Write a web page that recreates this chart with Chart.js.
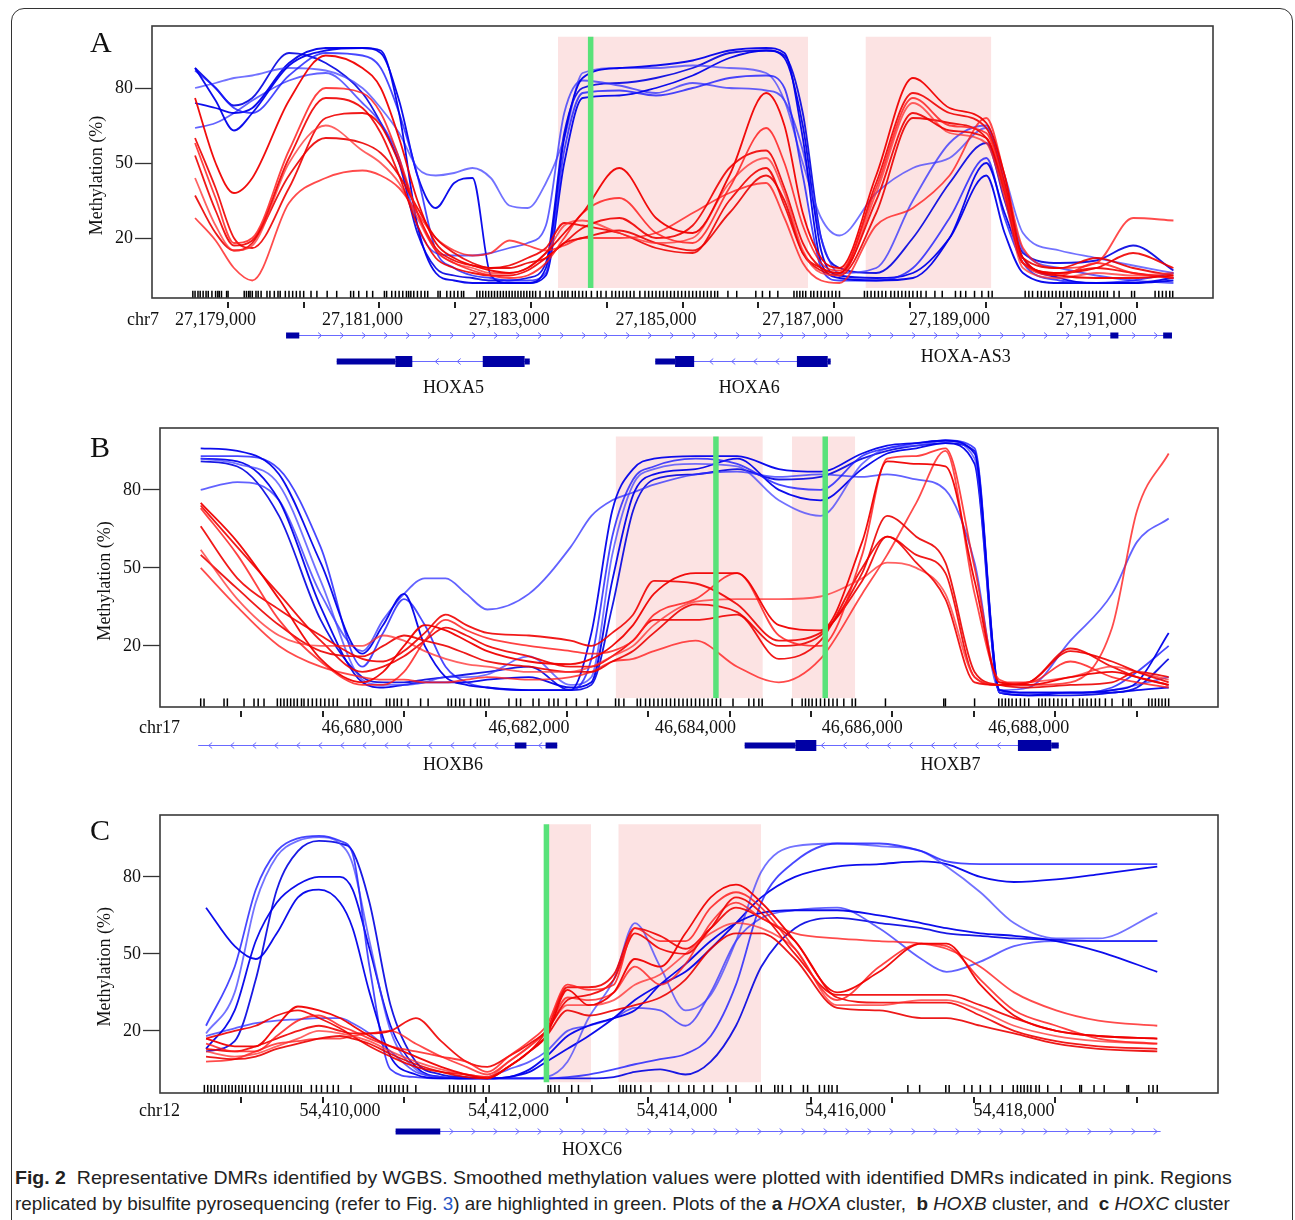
<!DOCTYPE html>
<html>
<head>
<meta charset="utf-8">
<script src="https://cdn.jsdelivr.net/npm/chart.js@4.4.1/dist/chart.umd.min.js"></script>
<style>
html,body{margin:0;padding:0;background:#fff;}
body{width:1295px;height:1220px;position:relative;overflow:hidden;}
#frame{position:absolute;left:11px;top:8px;width:1280px;height:1300px;border:1.3px solid #333;border-radius:13px;}
canvas{position:absolute;left:0;}
.letter{position:absolute;font-family:"Liberation Serif","Times New Roman",serif;font-size:30px;line-height:30px;color:#111;}
.cap{position:absolute;left:15px;white-space:nowrap;font-family:"Liberation Sans Narrow","Liberation Sans",Arial,sans-serif;font-size:18.5px;line-height:18px;color:#222;transform-origin:0 0;}
.cap b{font-weight:bold;}
</style>
</head>
<body>
<div id="frame"></div>
<canvas id="cA" width="1295" height="410" style="top:0px"></canvas>
<canvas id="cB" width="1295" height="390" style="top:410px"></canvas>
<canvas id="cC" width="1295" height="365" style="top:800px"></canvas>
<div class="letter" style="left:90px;top:27px">A</div>
<div class="letter" style="left:90px;top:432px">B</div>
<div class="letter" style="left:90px;top:815px">C</div>
<div class="cap" data-w="1217" style="top:1169px"><b>Fig. 2</b>&nbsp; Representative DMRs identified by WGBS. Smoothed methylation values were plotted with identified DMRs indicated in pink. Regions</div>
<div class="cap" data-w="1215" style="top:1195px">replicated by bisulfite pyrosequencing (refer to Fig. <span style="color:#2a56c6">3</span>) are highlighted in green. Plots of the <b>a</b> <i>HOXA</i> cluster,&nbsp; <b>b</b> <i>HOXB</i> cluster, and&nbsp; <b>c</b> <i>HOXC</i> cluster</div>
<script>
// ================= DATA =================
// Panel A : chr7, positions in kb offset from A_base
const A_base = 27178000;
const A_x = [0.72,1.0,1.25,1.5,2.0,2.5,3.0,3.25,3.5,3.75, 4.0,4.25,4.5,4.75,5.0,5.25,5.5,5.75, 6.0,6.5,7.0,7.5,8.0,8.5,8.75, 9.0,9.25,9.5,10.0,10.5,11.0,11.5,11.75, 12.0,12.5,13.0,13.5,14.05];
const A_blue1 = [88,75,63,70,89,95,96,95,70,25, 6,3,2,2,2,2,8,60, 84,88,89,91,95,96,94, 60,10,4,3,4,20,50,30, 12,4,2,2,3];
const A_blue2 = [87,80,72,70,85,94,93,88,70,45, 15,8,5,4,3,3,6,55, 78,79,77,80,84,85,80, 45,8,3,3,8,28,52,28, 10,3,2,3,6];
const A_blue3 = [80,82,84,85,88,87,80,72,62,48, 45,46,48,44,33,32,42,60, 86,88,88,89,88,86,75, 50,28,21,38,48,52,64,45, 22,15,12,9,6];
const A_blue4 = [74,72,70,72,90,96,96,94,75,45, 32,42,44,5,2,2,5,50, 76,77,80,85,92,95,92, 65,15,5,4,6,20,45,22, 6,2,2,2,4];
const A_blue5 = [64,66,70,75,83,86,74,66,52,25, 14,13,13,14,16,18,25,70, 83,81,78,82,80,79,75, 55,20,6,8,35,58,65,42, 15,8,5,3,2];
const A_blue6 = [88,80,73,76,94,90,78,66,50,22, 8,5,4,3,3,4,10,62, 80,82,84,88,94,95,93, 70,20,8,6,20,42,58,35, 14,10,11,17,7];
const A_red1 = [76,50,38,44,75,93,88,80,60,35, 18,12,9,7,6,8,14,22, 30,48,28,22,45,78,65, 30,12,8,45,84,72,66,45, 12,5,4,4,5];
const A_red2 = [58,36,18,20,55,80,78,70,52,30, 15,10,7,5,4,5,10,20, 30,36,22,18,40,64,50, 25,10,7,40,76,65,62,40, 10,5,10,6,4];
const A_red3 = [53,31,17,19,52,76,72,62,45,25, 12,8,6,5,5,7,12,18, 24,28,20,25,48,55,40, 18,8,6,35,70,63,60,38, 10,6,8,14,8];
const A_red4 = [44,25,15,17,50,65,55,50,42,28, 15,10,8,6,6,8,14,25, 27,22,18,20,42,52,38, 15,6,5,38,74,62,58,36, 8,4,6,5,6];
const A_red5 = [37,22,15,18,45,60,58,54,45,32, 20,14,10,8,8,10,12,18, 20,23,18,15,30,45,35, 14,7,5,30,68,66,60,40, 12,8,12,8,5];
const A_red6 = [28,19,8,3,34,44,47,45,40,30, 20,15,13,14,19,17,15,17, 20,20,22,30,38,42,28, 10,3,2,25,32,45,68,45, 16,8,10,28,27];
const A_red7 = [60,40,20,16,40,68,70,65,50,30, 16,11,9,8,9,12,16,26, 25,22,16,14,35,48,33, 14,8,6,42,78,70,64,42, 10,6,8,6,4];
const A_rug = [0.69,0.72,0.76,0.79,0.83,0.87,0.9,0.95,1.0,1.03,1.05,1.08,1.15,1.17,
 1.39,1.42,1.45,1.47,1.5,1.55,1.58,1.62,1.7,1.74,1.8,1.85,1.88,1.95,2.0,2.05,2.1,2.15,2.2,2.3,2.38,
 2.52,2.65,2.84,2.88,2.95,3.06,3.14,
 3.3,3.33,3.4,3.45,3.5,3.55,3.6,3.63,3.66,3.7,3.75,3.8,3.85,3.89,
 4.03,4.06,4.15,4.2,4.25,4.3,4.35,4.38,
 4.56,4.6,4.64,4.68,4.72,4.76,4.8,4.84,4.88,4.92,4.96,5.0,5.04,5.08,5.12,5.16,5.2,5.24,5.28,5.32,5.36,5.42,5.5,5.55,5.6,5.67,
 5.72,5.76,5.8,5.86,5.9,5.95,6.0,6.05,6.12,6.2,6.25,6.32,
 6.4,6.45,6.5,6.55,6.6,6.65,6.7,6.78,6.85,6.9,6.95,7.0,7.05,7.1,7.15,7.2,7.25,7.3,7.35,7.4,7.45,7.5,7.55,7.6,7.65,7.7,7.75,7.8,7.84,
 7.98,8.1,8.36,8.45,8.55,8.66,
 8.88,8.92,8.96,9.0,9.04,9.11,9.15,9.2,9.25,9.3,9.35,9.4,9.45,9.5,
 9.84,9.88,9.93,9.98,10.03,10.08,10.13,10.2,10.25,10.3,10.35,10.4,10.45,10.5,10.56,10.61,10.68,10.8,10.9,11.08,11.15,11.22,11.34,11.44,11.53,11.58,
 12.03,12.08,12.13,12.2,12.25,12.3,12.35,12.4,12.45,12.5,12.55,12.6,12.65,12.7,12.75,12.8,12.85,12.9,12.95,13.0,13.05,13.1,13.15,13.24,13.31,13.48,13.52,13.8,13.85,13.9,13.95,14.0,14.04];
const A_pink = [[5.665,9.072],[9.854,11.569]];
const A_green = [6.11];
const A_tickLabels = [27179000,27181000,27183000,27185000,27187000,27189000,27191000];
const A_chr = 'chr7';
const A_genes = [
  {name:'HOXA-AS3', strand:'+', span:[1.96,14.03], exons:[[1.96,2.14,'u'],[13.19,13.30,'u'],[13.91,14.03,'u']], labelAt:11.22},
  {name:'HOXA5', strand:'-', span:[2.65,5.28], exons:[[2.65,3.45,'u'],[3.45,3.68,'c'],[4.64,5.21,'c'],[5.21,5.28,'u']], labelAt:4.24},
  {name:'HOXA6', strand:'-', span:[6.99,9.38], exons:[[6.99,7.26,'u'],[7.26,7.52,'c'],[8.92,9.34,'c'],[9.34,9.38,'u']], labelAt:8.27}
];

// Panel B : chr17, kb offset from B_base
const B_base = 46678000;
const B_x = [0.06,0.5,1.0,1.5,2.0,2.25,2.5,2.75,3.0,3.25, 3.5,4.0,4.5,4.75,5.0,5.25,5.5,6.0,6.5,7.0, 7.5,8.0,8.3,8.65,9.0,9.35,9.65,10.0,10.5,11.0, 11.3,11.68];
const B_blue1 = [96,95,86,52,17,28,40,20,8,5, 4,3,3,25,72,88,92,93,93,88, 87,94,97,98,99,94,3,2,2,3, 6,25];
const B_blue2 = [93,93,88,58,12,25,38,28,12,6, 4,3,3,15,62,84,89,92,90,82, 80,93,96,98,99,96,3,2,2,4, 10,20];
const B_blue3 = [92,90,82,45,7,5,5,6,8,8, 9,16,5,8,55,82,88,90,89,76, 70,90,96,97,99,92,2,2,2,3, 5,8];
const B_blue4 = [92,91,76,35,6,4,5,6,6,6, 7,8,4,6,45,78,86,88,92,80, 76,88,94,96,98,90,2,1,2,2, 3,4];
const B_blue5 = [80,83,76,40,18,30,40,46,46,40, 34,40,58,70,76,79,82,86,87,85, 86,85,86,84,80,52,3,4,22,40, 60,69];
const B_blue6 = [91,89,70,30,8,6,6,7,8,9, 10,12,3,5,35,72,84,86,88,84, 85,92,95,97,98,95,2,1,1,2, 4,15];
const B_red1 = [75,60,38,15,6,10,20,28,26,22, 18,14,13,15,20,28,40,48,48,28, 26,60,91,90,89,45,6,5,8,10, 8,5];
const B_red2 = [73,55,30,14,5,5,10,22,30,26, 23,20,18,17,18,22,32,38,48,24, 20,55,92,93,96,50,6,6,14,8, 6,4];
const B_red3 = [66,46,34,24,15,14,18,25,32,28, 25,24,22,20,25,32,45,44,36,22, 25,45,62,52,38,6,5,6,18,14, 10,6];
const B_red4 = [57,38,24,20,20,24,22,18,15,13, 12,10,10,12,16,20,28,37,38,38, 39,46,52,50,40,8,5,6,8,12, 10,7];
const B_red5 = [55,42,28,18,16,20,24,22,20,17, 14,12,10,10,14,18,25,36,33,20, 24,48,70,62,52,10,5,4,5,6, 10,8];
const B_red6 = [50,35,20,12,8,7,7,6,6,7, 8,7,8,10,14,15,18,22,12,6, 15,40,55,75,95,40,7,5,6,27, 72,94];
const B_red7 = [74,58,40,22,10,12,16,22,27,24, 20,16,12,12,16,22,30,30,32,15, 22,50,62,55,48,8,5,6,19,12, 8,5];
const B_rug = [0.06,0.1,0.34,0.38,0.58,0.7,0.75,0.82,
 0.98,1.02,1.06,1.1,1.14,1.18,1.22,1.27,1.3,1.35,1.4,1.45,1.5,1.55,1.6,1.65,1.7,
 1.84,1.9,1.95,2.0,2.05,2.1,
 2.29,2.33,2.38,2.42,2.47,2.55,2.7,2.79,
 3.03,3.07,3.12,3.17,3.22,3.3,3.38,3.42,3.47,3.52,
 3.76,3.85,3.9,4.05,4.12,4.24,4.3,4.35,4.45,4.57,4.7,4.83,
 5.04,5.08,5.14,5.3,5.34,5.4,5.45,5.5,5.55,5.6,5.65,5.7,5.75,5.8,5.85,5.9,5.95,6.0,6.05,6.1,6.15,6.2,6.25,6.3,6.45,6.64,6.7,6.76,6.8,
 7.16,7.28,7.32,7.36,7.4,7.45,7.5,7.55,7.6,7.65,7.7,7.78,7.88,7.92,
 8.28,8.98,9.0,9.35,
 9.64,9.68,9.72,9.76,9.8,9.85,9.9,9.95,10.0,10.12,10.16,10.2,10.25,10.3,10.35,10.4,10.45,10.53,
 10.61,10.65,10.7,10.75,10.8,10.85,10.92,11.0,11.13,11.2,11.23,11.44,11.48,11.52,11.56,11.6,11.64,11.68];
const B_pink = [[5.041,6.808],[7.158,7.917]];
const B_green = [6.245,7.557];
const B_tickLabels = [46680000,46682000,46684000,46686000,46688000];
const B_chr = 'chr17';
const B_genes = [
  {name:'HOXB6', strand:'-', span:[0.03,4.34], exons:[[3.83,3.97,'u'],[4.20,4.34,'u']], labelAt:3.09},
  {name:'HOXB7', strand:'-', span:[6.59,10.36], exons:[[6.59,7.20,'u'],[7.20,7.45,'c'],[9.87,10.27,'c'],[10.27,10.36,'u']], labelAt:9.06}
];

// Panel C : chr12, kb offset from C_base
const C_base = 54408000;
const C_x = [0.41,0.75,1.0,1.25,1.5,1.75,2.0,2.15,2.35,2.6, 2.9,3.2,3.5,3.75,4.0,4.25,4.45,4.7,4.95,5.25, 5.5,5.8,6.1,6.4,6.7,7.0,7.4,7.9,8.4,8.9, 9.2,9.6,10.0,10.5,11.0,11.7];
const C_blue1 = [68,53,48,58,72,75,70,60,35,10, 3,1.5,1.5,1.5,2,5,10,18,22,25, 28,38,46,55,62,66,67,67,65,62, 60,58,57,55,51,43];
const C_blue2 = [22,45,75,90,95,96,94,89,45,5, 2,1.5,1.5,1.5,1.5,1.5,1.5,2,3,5, 7,9,11,18,38,70,86,93,93,90, 86,85,85,85,85,85];
const C_blue3 = [19,35,70,88,94,95.5,93,85,55,20, 5,2,1.5,1.5,1.5,1.5,2,8,25,40, 62,45,28,34,55,82,92,93,92,90, 84,74,62,56,56,66];
const C_blue4 = [13,28,55,70,77,80,80,75,52,22, 6,2,1.5,1.5,2,4,8,13,18,25, 32,38,43,52,62,72,80,84,85,86, 85,80,78,79,81,84];
const C_blue5 = [18,21,23,24,24.5,25,25,23,19,12, 4,2,1.5,2,5,8,12,20,22,25, 29,28,22,35,55,64,67,68,60,48, 43,47,53,55,55,55];
const C_blue6 = [12,16,40,75,90,94,93,90,70,30, 8,3,2,1.5,1.5,1.5,1.5,1.5,1.5,2, 4,5,3,8,22,45,60,64,62,60, 58,57,56,55.5,55,55];
const C_red1 = [17,14,14,22,29.5,28,25,22,18,14, 10,6,3,1.5,6,12,18,36,30,35, 48,45,58,72,77,70,55,35,43,54, 54,38,26,20,18,17];
const C_red2 = [15,12,12,18,24,26,22,20,17,14, 12,10,8,4,10,16,22,38,36,38, 60,55,55,68,74,68,52,32,45,54, 53,40,28,22,17,15];
const C_red3 = [13,12,14,17,20,22,20,19,19,20, 25,16,8,6,10,15,20,32,34,40, 58,52,50,60,72,66,50,34,34,34, 34,30,25,20,18,17];
const C_red4 = [12,10,11,14,17,20,19,18,16,12, 8,5,3,2,8,14,20,30,30,32, 38,42,50,58,62,60,52,30,30,32, 32,28,22,18,16,15];
const C_red5 = [10,9,10,13,15,17,18,17,15,11, 7,4,2,1.5,6,12,18,28,26,28, 30,33,40,52,58,58,48,29,28,25, 25,22,19,15,13,12];
const C_red6 = [8,9,12,15,16,17,17,18,19,20, 15,10,6,3,8,14,20,33,32,35, 45,38,46,62,70,64,58,56,55,54, 52,45,35,28,24,22];
const C_red7 = [17,20,22,26,28,25,21,18,14,10, 6,4,3,2,6,12,20,37,37,42, 60,57,52,60,68,64,55,33,31,31, 31,26,20,16,14,13];
const C_rug = [0.39,0.43,0.47,0.51,0.55,0.6,0.64,0.68,0.72,0.76,0.8,0.84,0.88,0.93,
 0.98,1.03,1.08,1.13,1.2,1.25,1.3,1.35,1.4,1.45,1.5,1.54,
 1.66,1.72,1.78,1.85,1.92,1.98,2.13,
 2.46,2.5,2.55,2.6,2.65,2.7,2.75,2.8,2.9,
 3.3,3.35,3.4,3.45,3.5,3.55,3.6,3.7,3.77,
 4.47,4.5,4.55,4.6,4.75,4.83,4.99,
 5.32,5.36,5.4,5.45,5.5,5.57,5.69,5.9,6.02,6.14,6.2,6.32,6.42,6.6,6.7,6.94,7.0,
 7.16,7.2,7.25,7.35,7.5,7.55,7.69,7.75,7.8,7.84,7.9,
 8.74,8.88,9.19,9.23,9.41,9.5,9.6,9.72,9.86,
 9.99,10.04,10.08,10.12,10.16,10.2,10.26,10.3,10.4,10.56,10.78,10.8,10.95,11.07,11.34,11.36,11.6,11.65,11.7];
const C_pink = [[4.464,4.979],[5.303,6.997]];
const C_green = [4.45];
const C_tickLabels = [54410000,54412000,54414000,54416000,54418000];
const C_chr = 'chr12';
const C_genes = [
  {name:'HOXC6', strand:'+', span:[2.66,11.74], exons:[[2.66,3.19,'u']], labelAt:4.99}
];

const Y_TICKS = [20,50,80];
const Y_TITLE = 'Methylation (%)';

// ================= STYLE / LAYOUT =================
const FONT = '"Liberation Serif","Times New Roman",serif';
const BLUE_COLS = ['rgba(0,0,235,0.95)','rgba(25,25,255,0.8)','rgba(60,60,255,0.72)','rgba(0,0,235,0.95)','rgba(45,45,255,0.75)','rgba(0,0,225,0.9)'];
const RED_COLS = ['rgba(240,0,0,0.95)','rgba(255,25,25,0.82)','rgba(240,0,0,0.9)','rgba(255,45,45,0.75)','rgba(235,0,0,0.9)','rgba(255,30,30,0.8)','rgba(240,0,0,0.9)'];
const PINK = 'rgb(252,227,227)';
const GREEN = 'rgb(88,226,122)';
const GENE_LINE = 'rgb(105,105,255)';
const GENE_FILL = 'rgb(0,0,165)';
const PINK_TOP = 100.5;

Chart.defaults.font.family = FONT;
Chart.defaults.color = '#111';

const extras = {
  id: 'extras',
  afterDraw(chart, args, o) {
    const {ctx, chartArea: a, scales: {x, y}} = chart;
    ctx.save();
    // box
    ctx.strokeStyle = '#3a3a3a'; ctx.lineWidth = 1.6;
    ctx.strokeRect(a.left, a.top, a.right - a.left, a.bottom - a.top);
    // detached x tick marks
    ctx.strokeStyle = '#222'; ctx.lineWidth = 2;
    x.ticks.forEach(t => {
      if (t.value < o.dataMin || t.value > o.dataMax) return;
      const px = Math.round(x.getPixelForValue(t.value));
      ctx.beginPath(); ctx.moveTo(px, a.bottom + 4); ctx.lineTo(px, a.bottom + 10); ctx.stroke();
    });
    // x tick labels (genomic coordinates) placed by the x scale
    ctx.fillStyle = '#111'; ctx.font = '18px ' + FONT;
    ctx.textAlign = 'center'; ctx.textBaseline = 'middle';
    o.tickLabels.forEach(v => {
      ctx.fillText(v.toLocaleString('en-US'), x.getPixelForValue(v), a.bottom + o.labelDy);
    });
    // chromosome label
    ctx.textAlign = 'left';
    ctx.fillText(o.chr, a.left + o.chrDx, a.bottom + o.labelDy);
    // y title
    ctx.save();
    ctx.translate(a.left - 55, y.getPixelForValue(45));
    ctx.rotate(-Math.PI / 2);
    ctx.textAlign = 'center';
    ctx.fillText(Y_TITLE, 0, 0);
    ctx.restore();
    // gene tracks
    const px = k => x.getPixelForValue(o.base + k * 1000);
    o.genes.forEach(g => {
      const row = o.rows[g.name] || 0;
      const gy = Math.round(a.bottom + o.rowY[row]) + 0.5;
      const x1 = px(g.span[0]), x2 = px(g.span[1]);
      ctx.strokeStyle = GENE_LINE; ctx.lineWidth = 1;
      ctx.beginPath(); ctx.moveTo(x1, gy); ctx.lineTo(x2, gy); ctx.stroke();
      const ex = g.exons.map(e => [px(e[0]), px(e[1]), e[2]]);
      const d = g.strand === '+' ? 1 : -1;
      for (let cx = x1 + 12; cx < x2 - 4; cx += 22) {
        if (ex.some(e => cx > e[0] - 5 && cx < e[1] + 5)) continue;
        ctx.beginPath();
        ctx.moveTo(cx - 2 * d, gy - 3); ctx.lineTo(cx + 1.5 * d, gy); ctx.lineTo(cx - 2 * d, gy + 3);
        ctx.stroke();
      }
      ctx.fillStyle = GENE_FILL;
      ex.forEach(e => {
        const h = e[2] === 'c' ? 11 : 6;
        ctx.fillRect(e[0], gy - h / 2, Math.max(1.5, e[1] - e[0]), h);
      });
      ctx.fillStyle = '#111'; ctx.font = '18px ' + FONT;
      ctx.textAlign = 'center'; ctx.textBaseline = 'middle';
      ctx.fillText(g.name, px(g.labelAt), a.bottom + o.genLabY[row]);
    });
    ctx.restore();
  }
};

function panel(id, p) {
  const toPts = ys => p.xs.map((k, i) => ({x: p.base + k * 1000, y: ys[i]}));
  const ds = [];
  p.pink.forEach(r => ds.push({
    data: [{x: p.base + r[0] * 1000, y: PINK_TOP}, {x: p.base + r[1] * 1000, y: PINK_TOP}],
    fill: 'origin', backgroundColor: PINK, borderWidth: 0, pointRadius: 0, order: 100
  }));
  ds.push({
    data: p.rug.map(k => ({x: p.base + k * 1000, y: p.rugY})),
    showLine: false, pointStyle: 'line', pointRotation: 90, pointRadius: p.rugR,
    pointBorderColor: '#000', pointBackgroundColor: '#000', pointBorderWidth: 1.5, order: 50
  });
  p.blues.forEach((ys, i) => ds.push({
    data: toPts(ys), borderColor: BLUE_COLS[i % BLUE_COLS.length], borderWidth: 1.8,
    pointRadius: 0, cubicInterpolationMode: 'monotone', fill: false, order: 20
  }));
  p.reds.forEach((ys, i) => ds.push({
    data: toPts(ys), borderColor: RED_COLS[i % RED_COLS.length], borderWidth: 1.8,
    pointRadius: 0, cubicInterpolationMode: 'monotone', fill: false, order: 10
  }));
  p.green.forEach(g => ds.push({
    data: [{x: p.base + g * 1000, y: 0}, {x: p.base + g * 1000, y: PINK_TOP}],
    borderColor: GREEN, borderWidth: 5.5, pointRadius: 0, fill: false, order: 1
  }));
  const H = p.height;
  new Chart(document.getElementById(id), {
    type: 'line',
    data: {datasets: ds},
    options: {
      responsive: false, animation: false, devicePixelRatio: 1, events: [],
      layout: {padding: {left: 0, top: p.box.top, right: 1295 - p.box.right, bottom: 0}},
      plugins: {
        legend: {display: false}, tooltip: {enabled: false},
        extras: {
          base: p.base, chr: p.chr, chrDx: p.chrDx, labelDy: p.labelDy, tickLabels: p.tickLabels,
          dataMin: p.base + p.xs[0] * 1000, dataMax: p.base + p.xs[p.xs.length - 1] * 1000,
          genes: p.genes, rows: p.rows, rowY: p.rowY, genLabY: p.genLabY
        }
      },
      scales: {
        x: {
          type: 'linear', min: p.xmin, max: p.xmax,
          afterFit: s => { s.height = H - p.box.bottom; },
          grid: {display: false, drawTicks: false},
          border: {display: false},
          ticks: {stepSize: 1000, includeBounds: false, autoSkip: false, maxRotation: 0, minRotation: 0, display: false}
        },
        y: {
          min: p.ymin, max: p.ymax,
          afterFit: s => { s.width = p.box.left; },
          afterBuildTicks: s => { s.ticks = Y_TICKS.map(v => ({value: v})); },
          grid: {display: true, drawOnChartArea: false, drawTicks: true, tickLength: 17, tickColor: '#333', tickWidth: 1.3},
          border: {display: false},
          ticks: {padding: 2, color: '#111', font: {size: 18, family: FONT}}
        }
      }
    },
    plugins: [extras]
  });
}

panel('cA', {
  base: A_base, xs: A_x,
  blues: [A_blue1, A_blue2, A_blue3, A_blue4, A_blue5, A_blue6],
  reds: [A_red1, A_red2, A_red3, A_red4, A_red5, A_red6, A_red7],
  rug: A_rug, pink: A_pink, green: A_green, tickLabels: A_tickLabels, chr: A_chr, genes: A_genes,
  height: 410, box: {left: 152, top: 26, right: 1213, bottom: 298},
  xmin: A_base + 133.5, xmax: A_base + 14589, ymin: -4, ymax: 104.8,
  rugY: -2.6, rugR: 3.7, chrDx: -25, labelDy: 22,
  rows: {'HOXA-AS3': 0, 'HOXA5': 1, 'HOXA6': 1}, rowY: [37, 63], genLabY: [59, 90]
});
panel('cB', {
  base: B_base, xs: B_x,
  blues: [B_blue1, B_blue2, B_blue3, B_blue4, B_blue5, B_blue6],
  reds: [B_red1, B_red2, B_red3, B_red4, B_red5, B_red6, B_red7],
  rug: B_rug, pink: B_pink, green: B_green, tickLabels: B_tickLabels, chr: B_chr, genes: B_genes,
  height: 390, box: {left: 160, top: 18, right: 1218, bottom: 297},
  xmin: B_base - 428.6, xmax: B_base + 12272, ymin: -3.5, ymax: 103.8,
  rugY: -1.8, rugR: 4.2, chrDx: -21, labelDy: 21,
  rows: {'HOXB6': 0, 'HOXB7': 0}, rowY: [38], genLabY: [58]
});
panel('cC', {
  base: C_base, xs: C_x,
  blues: [C_blue1, C_blue2, C_blue3, C_blue4, C_blue5, C_blue6],
  reds: [C_red1, C_red2, C_red3, C_red4, C_red5, C_red6, C_red7],
  rug: C_rug, pink: C_pink, green: C_green, tickLabels: C_tickLabels, chr: C_chr, genes: C_genes,
  height: 365, box: {left: 160, top: 15, right: 1218, bottom: 293},
  xmin: C_base - 136.5, xmax: C_base + 12421, ymin: -4.2, ymax: 104.1,
  rugY: -2.6, rugR: 4.0, chrDx: -21, labelDy: 18,
  rows: {'HOXC6': 0}, rowY: [38], genLabY: [57]
});

function fitCaption() {
  document.querySelectorAll('.cap').forEach(el => {
    el.style.transform = 'none';
    const w = el.offsetWidth;
    el.style.transform = 'scaleX(' + (+el.dataset.w / w) + ')';
  });
}
fitCaption();
if (document.fonts && document.fonts.ready) document.fonts.ready.then(fitCaption);
</script>
</body>
</html>
